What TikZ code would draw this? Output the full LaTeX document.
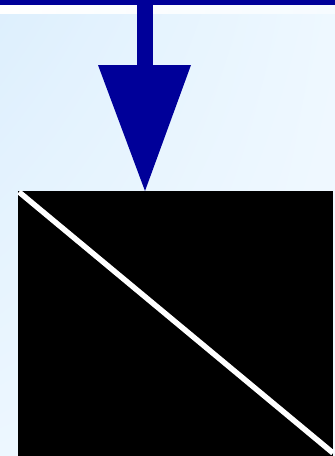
\documentclass[tikz,border=0pt]{standalone}
\usetikzlibrary{shadings}
\definecolor{bgul}{RGB}{221,239,253}
\definecolor{bgur}{RGB}{238,248,255}
\definecolor{bgll}{RGB}{237,247,255}
\definecolor{bglr}{RGB}{242,249,255}
\definecolor{stripr}{RGB}{246,251,255}
\definecolor{navy}{RGB}{0,0,153}
\begin{document}
\begin{tikzpicture}[x=1pt,y=-1pt,
  arrowblue/.style={fill=navy},
  blackbox/.style={fill=black, draw=none, inner sep=0pt, minimum width=315pt, minimum height=266pt, anchor=north west},
  diag/.style={draw=white, line width=5.5pt}]
\useasboundingbox (0,0) rectangle (335,456);
% background
\shade[upper left=bgul, upper right=bgur, lower left=bgll, lower right=bglr] (0,0) rectangle (335,456);
% white strip under the top bar
\shade[left color=white, right color=stripr] (0,5) rectangle (335,13);
% top bar
\fill[arrowblue] (0,0) rectangle (335,5);
% stem and head
\coordinate (stemtop) at (145,0);
\node[blackbox] (box) at (18,191) {};
\fill[arrowblue] (137,0) rectangle (153,66);
\fill[arrowblue] (98,65) -- (191,65) -- (box.north -| 145,0) -- cycle;
% diagonal
\coordinate (diagend) at (333,453);
\draw[diag] (box.north west) ++(1,1) -- (diagend);
\end{tikzpicture}
\end{document}
